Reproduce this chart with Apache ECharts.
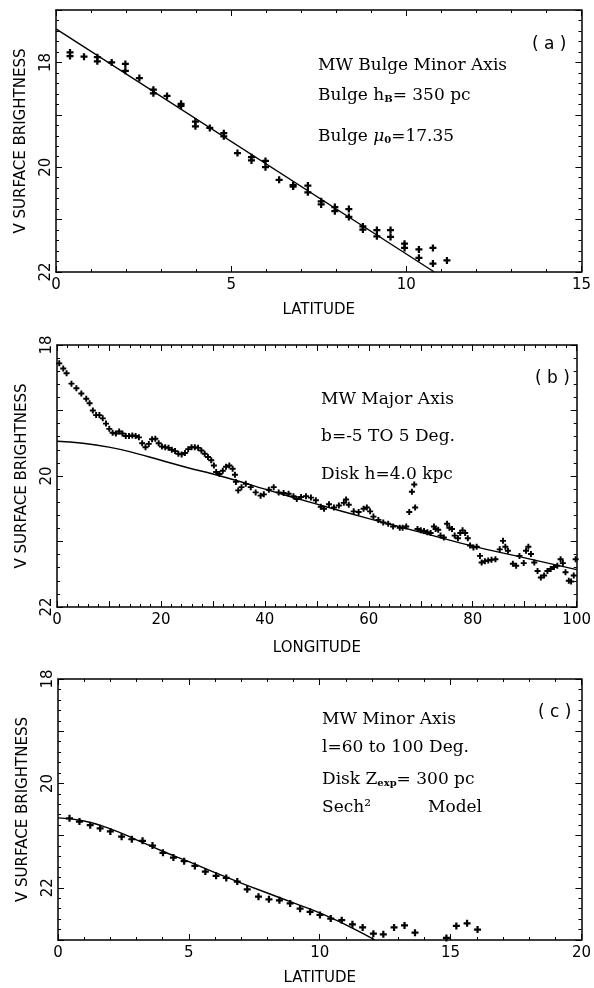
<!DOCTYPE html>
<html><head><meta charset="utf-8">
<script src="https://cdn.jsdelivr.net/npm/echarts@6/dist/echarts.min.js"></script>
<style>html,body{margin:0;padding:0;background:#fff}#c{width:594px;height:988px}</style>
</head><body><div id="c"></div>
<script>
// ---------- Panel (a): MW bulge minor axis ----------
const aLatitude = [0.40,0.40,0.80,1.18,1.18,1.59,1.98,1.98,2.38,2.78,2.78,3.17,3.57,3.57,3.98,3.98,4.39,4.79,4.79,5.18,5.58,5.58,5.98,5.98,6.37,6.77,6.77,7.19,7.19,7.57,7.57,7.96,7.96,8.36,8.36,8.76,8.76,9.16,9.16,9.55,9.55,9.95,9.95,10.36,10.36,10.76,10.76,11.16];
const aBrightness = [17.81,17.88,17.89,17.90,17.98,18.00,18.03,18.16,18.30,18.52,18.59,18.64,18.79,18.83,19.13,19.22,19.25,19.35,19.41,19.73,19.81,19.87,19.88,20.00,20.24,20.34,20.37,20.35,20.48,20.65,20.71,20.76,20.84,20.80,20.95,21.13,21.19,21.20,21.32,21.20,21.33,21.46,21.54,21.57,21.73,21.54,21.84,21.78];
const aModelLatitude = [0, 10.8];
const aModelBrightness = [17.36, 22.0];

// ---------- Panel (b): MW major axis ----------
const bLongitude = [0.44,1.2,1.84,2.78,3.73,4.68,5.63,6.27,6.9,7.53,8.16,8.8,9.43,10.06,10.7,11.33,11.96,12.59,13.23,13.86,14.49,15.13,15.76,16.39,17.03,17.66,18.29,18.92,19.56,20.19,20.82,21.46,22.09,22.72,23.35,23.99,24.62,25.25,25.89,26.52,27.15,27.78,28.42,29.05,29.68,30.19,30.63,31.27,31.9,32.53,33.16,33.8,34.24,34.43,34.87,35.5,36.33,37.28,38.23,39.18,39.8,40.76,41.7,42.66,43.6,44.56,45.5,46.14,
46.96,47.91,48.86,49.81,50.76,51.39,52.34,53.29,54.24,55.19,55.63,56.14,57.09,58.04,58.99,59.62,60.25,60.89,61.84,62.78,63.73,64.68,65.95,
66.5,67.2,67.78,68.29,68.74,68.92,69.37,70.0,70.63,71.27,71.9,72.53,72.85,73.35,73.8,74.43,75.06,75.5,76.01,76.52,77.15,77.59,78.04,78.54,79.05,79.49,80.13,80.76,81.39,81.71,82.34,82.97,83.61,84.37,85.19,85.82,86.27,86.77,87.72,88.35,88.99,89.81,90.25,90.7,91.2,91.84,92.47,93.1,93.73,94.37,95.0,95.63,96.27,96.9,97.34,97.85,98.48,98.92,99.43,99.8];
const bBrightness = [18.28,18.36,18.43,18.59,18.66,18.74,18.82,18.89,19.0,19.07,19.07,19.12,19.2,19.28,19.34,19.35,19.32,19.35,19.39,19.39,19.38,19.39,19.41,19.5,19.56,19.51,19.44,19.43,19.5,19.55,19.56,19.57,19.6,19.62,19.66,19.67,19.65,19.59,19.56,19.56,19.57,19.61,19.66,19.71,19.76,19.84,19.94,19.97,19.92,19.86,19.84,19.89,19.98,20.09,20.22,20.17,20.12,20.17,20.25,20.3,20.28,20.21,20.17,20.25,20.26,20.27,20.31,20.35,
20.32,20.31,20.33,20.37,20.47,20.5,20.43,20.48,20.45,20.41,20.36,20.44,20.54,20.55,20.5,20.48,20.54,20.62,20.67,20.71,20.73,20.77,20.79,
20.79,20.77,20.55,20.24,20.13,20.48,20.81,20.83,20.84,20.86,20.87,20.77,20.81,20.82,20.91,20.94,20.73,20.79,20.81,20.91,20.95,20.87,20.83,20.87,20.95,21.06,21.09,21.08,21.22,21.32,21.3,21.29,21.28,21.27,21.12,20.99,21.08,21.14,21.34,21.37,21.22,21.33,21.14,21.08,21.19,21.32,21.45,21.55,21.52,21.45,21.42,21.39,21.37,21.27,21.33,21.47,21.6,21.61,21.52,21.27];
const bModelLongitude = [0,5,10,15,20,25,30,35,40,50,60,70,80,90,100];
const bModelBrightness = [19.47,19.50,19.56,19.65,19.76,19.87,19.97,20.08,20.20,20.43,20.65,20.86,21.07,21.25,21.43];

// ---------- Panel (c): MW minor axis ----------
const cLatitude = [0.44,0.82,1.23,1.61,2.00,2.43,2.82,3.23,3.61,4.01,4.41,4.82,5.23,5.63,6.04,6.43,6.85,7.23,7.66,8.06,8.46,8.87,9.25,9.63,10.01,10.42,10.84,11.25,11.64,12.05,12.43,12.84,13.24,13.64,14.84,15.22,15.63,16.03];
const cBrightness = [20.67,20.73,20.80,20.86,20.92,21.02,21.07,21.10,21.19,21.33,21.42,21.49,21.58,21.69,21.77,21.81,21.88,22.03,22.17,22.22,22.24,22.30,22.40,22.46,22.52,22.59,22.62,22.70,22.76,22.88,22.89,22.76,22.72,22.86,22.96,22.73,22.68,22.80];
const cModelLatitude = [0,1,2,3,4,5,6,7,8,9,10,11,12,12.1];
const cModelBrightness = [20.66,20.72,20.87,21.08,21.30,21.50,21.71,21.91,22.10,22.29,22.48,22.71,22.97,23.0];

// ---------- tick / label settings ----------
const yLabelValues = [18, 20, 22];

const zip = (xs, ys) => xs.map((x, i) => [x, ys[i]]);
const PLUS = 'path://M-1.6,-5H1.6V-1.6H5V1.6H1.6V5H-1.6V1.6H-5V-1.6H-1.6Z';
const SANS = 'DejaVu Sans';
const SERIF = 'DejaVu Serif';

function xAxes(grid, min, max, interval, minorSplit, labelEvery, name, gap) {
  const base = {
    gridIndex: grid, type: 'value', min, max, interval,
    axisLine: {show: true, onZero: false, lineStyle: {color: '#000', width: 1.5}},
    axisTick: {show: true, inside: true, length: 6, lineStyle: {color: '#000', width: 1}},
    minorTick: {show: true, splitNumber: minorSplit, length: 3, lineStyle: {color: '#000', width: 1}},
    splitLine: {show: false}, minorSplitLine: {show: false}
  };
  return [
    Object.assign({}, base, {
      position: 'bottom', name, nameLocation: 'middle', nameGap: gap, nameMoveOverlap: false,
      nameTextStyle: {fontFamily: SANS, fontSize: 15, color: '#000'},
      axisLabel: {show: true, margin: 6, fontFamily: SANS, fontSize: 15, color: '#000',
        showMinLabel: true, showMaxLabel: true, hideOverlap: false,
        formatter: v => (Math.abs(v / labelEvery - Math.round(v / labelEvery)) < 1e-6 ? String(v) : '')}
    }),
    Object.assign({}, base, {position: 'top', axisLabel: {show: false}})
  ];
}
function yAxes(grid, min, max) {
  const base = {
    gridIndex: grid, type: 'value', min, max, interval: 1, inverse: true,
    axisLine: {show: true, onZero: false, lineStyle: {color: '#000', width: 1.5}},
    axisTick: {show: true, inside: true, length: 6, lineStyle: {color: '#000', width: 1}},
    minorTick: {show: true, splitNumber: 5, length: 3, lineStyle: {color: '#000', width: 1}},
    splitLine: {show: false}, minorSplitLine: {show: false}
  };
  return [
    Object.assign({}, base, {
      position: 'left', name: 'V SURFACE BRIGHTNESS', nameLocation: 'middle', nameGap: 27, nameMoveOverlap: false,
      nameTextStyle: {fontFamily: SANS, fontSize: 15, color: '#000'},
      axisLabel: {show: true, rotate: 90, margin: 2, fontFamily: SANS, fontSize: 15, color: '#000',
        showMinLabel: true, showMaxLabel: true, hideOverlap: false,
        formatter: v => (yLabelValues.indexOf(v) >= 0 ? String(v) : '')}
    }),
    Object.assign({}, base, {position: 'right', axisLabel: {show: false}})
  ];
}

const grids = [
  {left: 56, top: 10, width: 526, height: 262},
  {left: 57, top: 345, width: 526, height: 262},
  {left: 58, top: 679, width: 526, height: 261}
];

const xAxis = [].concat(
  xAxes(0, 0, 15, 5, 5, 5, 'LATITUDE', 31),
  xAxes(1, 0, 100, 10, 5, 20, 'LONGITUDE', 34),
  xAxes(2, 0, 20, 5, 5, 5, 'LATITUDE', 31)
);
const yAxis = [].concat(yAxes(0, 17, 22), yAxes(1, 18, 22), yAxes(2, 18, 23));

function pts(xi, yi, data, size) {
  return {type: 'scatter', xAxisIndex: xi, yAxisIndex: yi, data, symbol: PLUS, symbolSize: size,
    symbolKeepAspect: true, itemStyle: {color: '#000', opacity: 1}, silent: true, animation: false};
}
function model(xi, yi, data, smooth) {
  return {type: 'line', xAxisIndex: xi, yAxisIndex: yi, data, showSymbol: false, symbol: 'none', smooth: smooth,
    clip: true, lineStyle: {color: '#000', width: 1.4}, silent: true, animation: false};
}

const series = [
  pts(0, 0, zip(aLatitude, aBrightness), 7),
  model(0, 0, zip(aModelLatitude, aModelBrightness), false),
  pts(2, 2, zip(bLongitude, bBrightness), 6),
  model(2, 2, zip(bModelLongitude, bModelBrightness), true),
  pts(4, 4, zip(cLatitude, cBrightness), 7),
  model(4, 4, zip(cModelLatitude, cModelBrightness), true)
];

function T(x, y, text, extra) {
  return {type: 'text', x, y, silent: true, style: Object.assign({
    text, fontFamily: SERIF, fontSize: 17, fill: '#000', verticalAlign: 'middle', align: 'left',
    rich: {
      sub: {fontFamily: SERIF, fontSize: 10, fontWeight: 'bold', verticalAlign: 'bottom', fill: '#000'},
      mu: {fontFamily: SERIF, fontSize: 17, fontStyle: 'italic', fill: '#000'},
      n: {fontFamily: SERIF, fontSize: 17, fill: '#000'}
    }
  }, extra || {})};
}
const tag = (x, y, t) => T(x, y, t, {fontFamily: SANS, fontSize: 17});

const graphic = [
  tag(532, 45, '( a )'),
  T(318, 66, 'MW Bulge Minor Axis'),
  T(318, 96, '{n|Bulge h}{sub|B}{n|= 350 pc}'),
  T(318, 137, '{n|Bulge }{mu|μ}{sub|0}{n|=17.35}'),
  tag(535, 379, '( b )'),
  T(321, 400, 'MW Major Axis'),
  T(321, 437, 'b=-5 TO 5 Deg.'),
  T(321, 475, 'Disk h=4.0 kpc'),
  tag(538, 713, '( c )'),
  T(322, 720, 'MW Minor Axis'),
  T(322, 748, 'l=60 to 100 Deg.'),
  T(322, 780, '{n|Disk Z}{sub|exp}{n|= 300 pc}'),
  T(322, 808, 'Sech²'),
  T(428, 808, 'Model')
];

const chart = echarts.init(document.getElementById('c'), null, {renderer: 'canvas'});
chart.setOption({
  backgroundColor: '#fff',
  animation: false,
  grid: grids,
  xAxis, yAxis, series, graphic
});
</script>
</body></html>
